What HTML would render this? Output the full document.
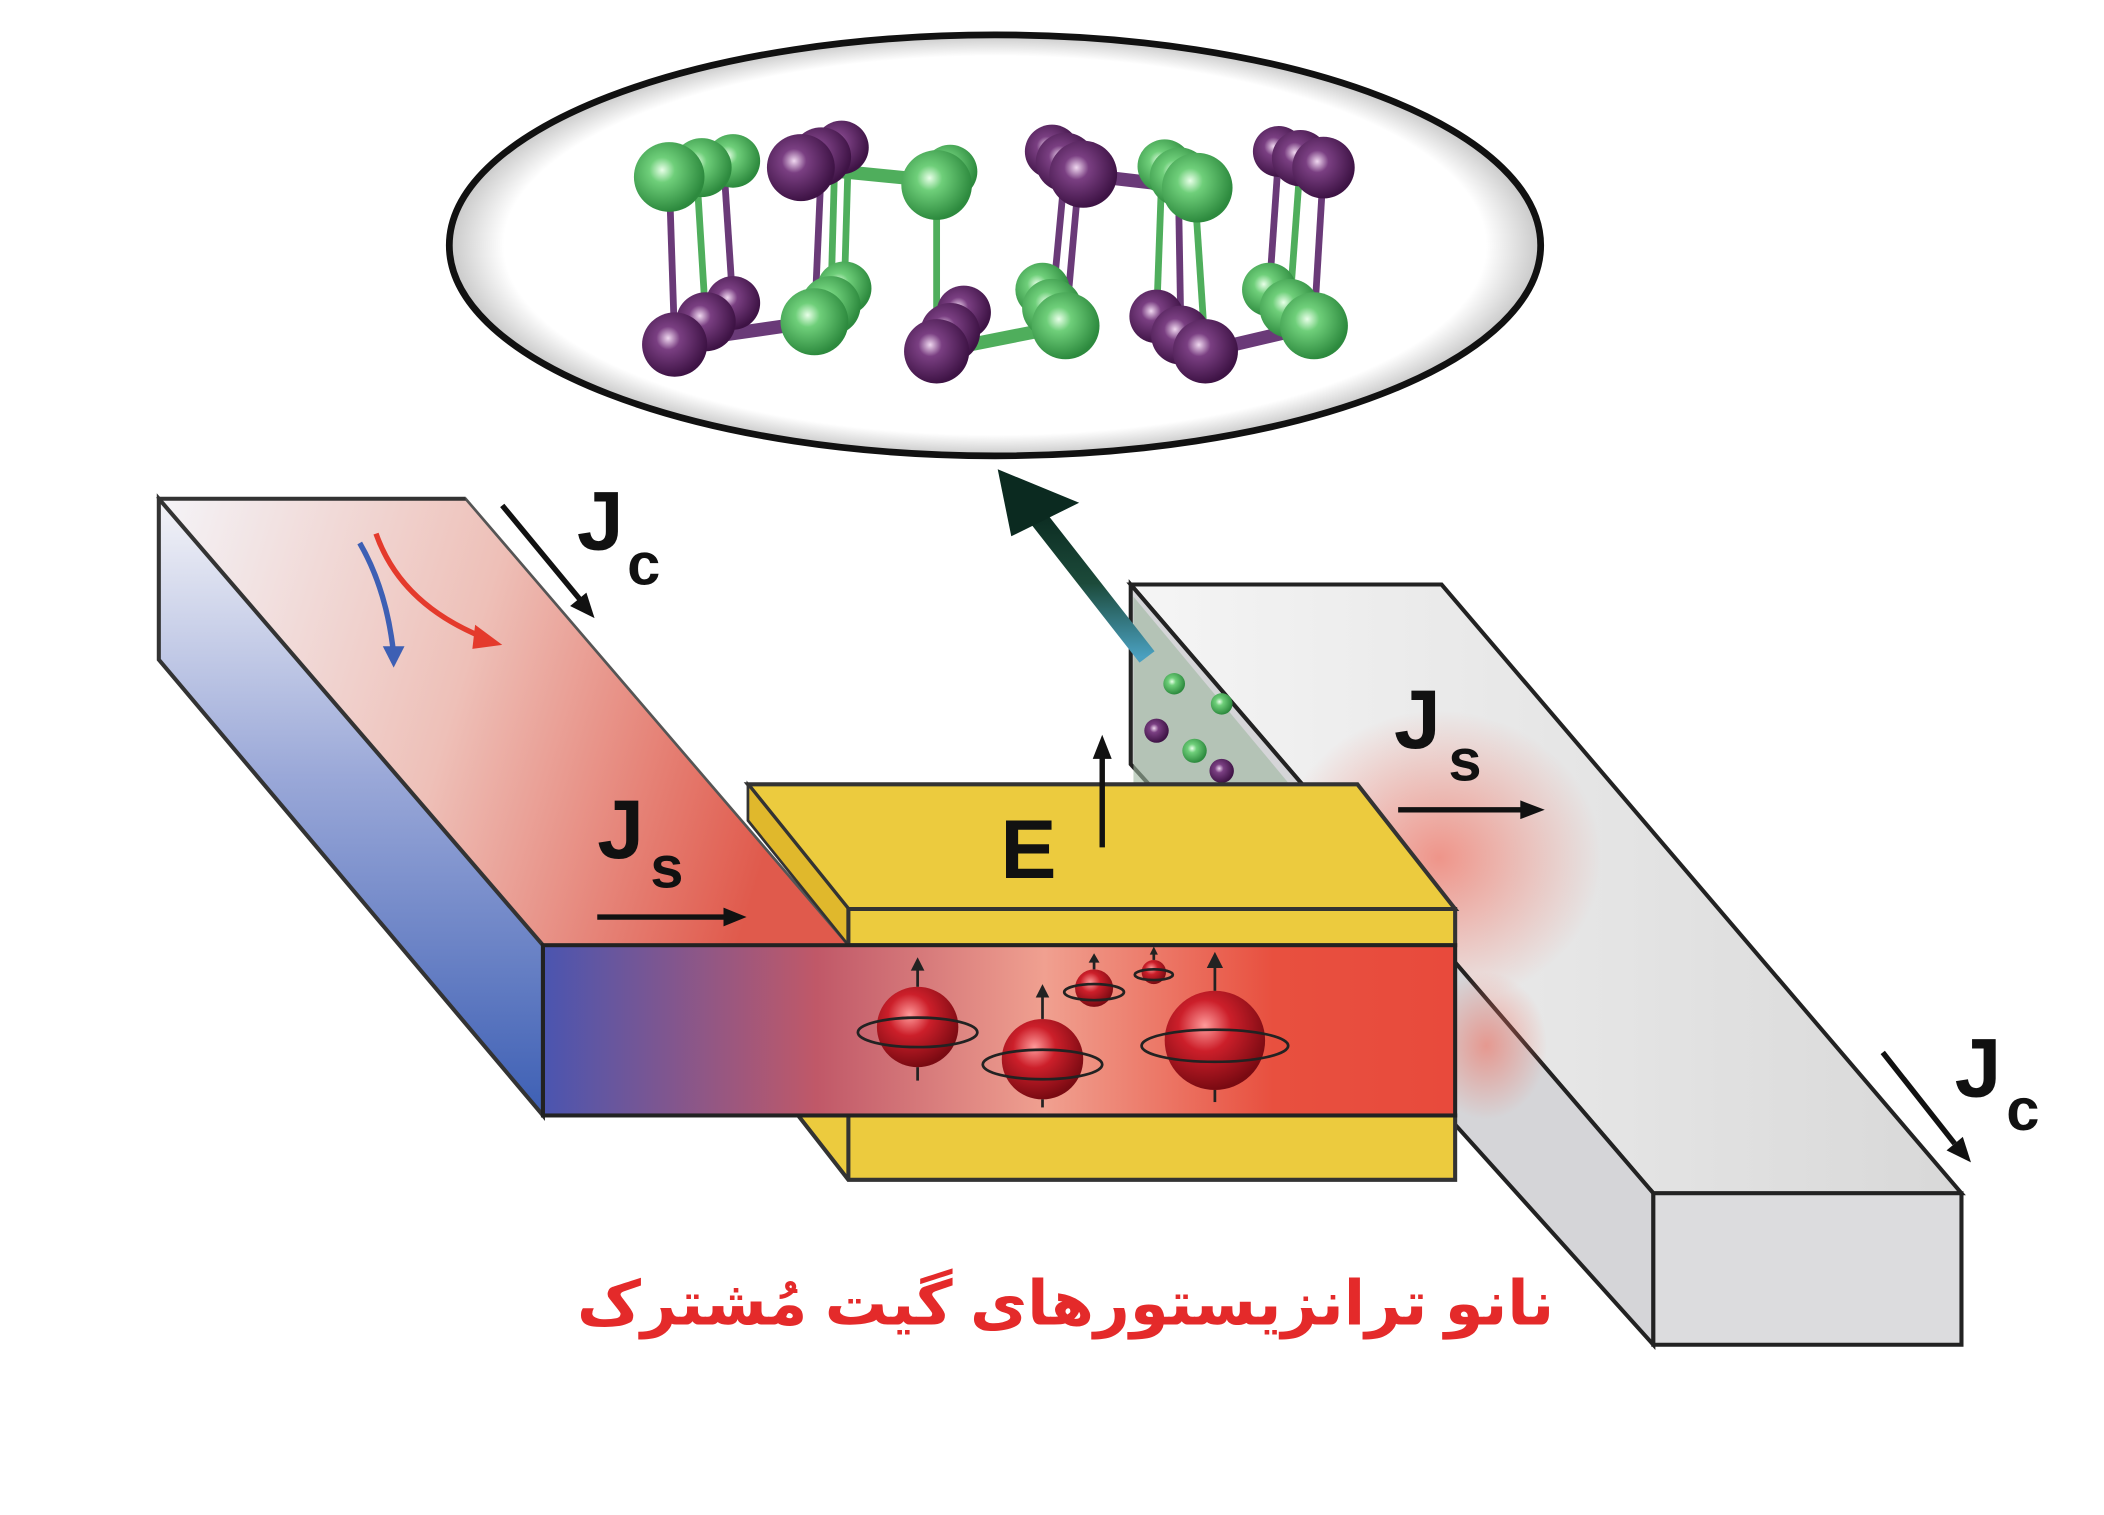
<!DOCTYPE html>
<html><head><meta charset="utf-8"><style>
html,body{margin:0;padding:0;background:#fff;width:2104px;height:1515px;overflow:hidden}
svg{display:block}
</style></head><body>
<svg width="2104" height="1515" viewBox="0 0 1550 1130" preserveAspectRatio="none" xmlns="http://www.w3.org/2000/svg">
<defs>
<radialGradient id="gG" cx="0.4" cy="0.4" r="0.6"><stop offset="0" stop-color="#e8ffe8"/><stop offset="0.3" stop-color="#6fcf7a"/><stop offset="1" stop-color="#2d8a3e"/></radialGradient>
<radialGradient id="gP" cx="0.4" cy="0.4" r="0.6"><stop offset="0" stop-color="#f0d8f0"/><stop offset="0.3" stop-color="#7a3f82"/><stop offset="1" stop-color="#3e1345"/></radialGradient>
<radialGradient id="gR" cx="0.4" cy="0.35" r="0.65"><stop offset="0" stop-color="#ff9a9a"/><stop offset="0.4" stop-color="#cc1f2a"/><stop offset="1" stop-color="#7a0a12"/></radialGradient>
<radialGradient id="ell" cx="0.5" cy="0.5" r="0.5"><stop offset="0.9" stop-color="#fff"/><stop offset="1" stop-color="#c8c8c8"/></radialGradient>
<linearGradient id="lbTop" x1="0" y1="0" x2="1" y2="0.2"><stop offset="0" stop-color="#f4f4f8"/><stop offset="0.5" stop-color="#eec0b8"/><stop offset="1" stop-color="#e05a4c"/></linearGradient>
<linearGradient id="lbSide" x1="0" y1="0" x2="0" y2="1"><stop offset="0" stop-color="#f4f4f8"/><stop offset="0.45" stop-color="#9aa8d8"/><stop offset="1" stop-color="#3d5fb4"/></linearGradient>
<linearGradient id="chan" x1="0" y1="0" x2="1" y2="0"><stop offset="0" stop-color="#4a55b0"/><stop offset="0.3" stop-color="#c05868"/><stop offset="0.55" stop-color="#f0a090"/><stop offset="0.8" stop-color="#e8503f"/><stop offset="1" stop-color="#e84a3c"/></linearGradient>
<radialGradient id="glow" cx="0.5" cy="0.5" r="0.5"><stop offset="0" stop-color="#f07060"/><stop offset="1" stop-color="#f07060" stop-opacity="0"/></radialGradient>
<linearGradient id="rbTop" x1="0" y1="0" x2="1" y2="0"><stop offset="0" stop-color="#f5f5f5"/><stop offset="1" stop-color="#d8d8d8"/></linearGradient>
<linearGradient id="arr" x1="0" y1="1" x2="0" y2="0"><stop offset="0" stop-color="#4aa0c0"/><stop offset="0.5" stop-color="#1c4a3a"/><stop offset="1" stop-color="#0b2a20"/></linearGradient>
</defs>

<ellipse cx="733" cy="183" rx="402" ry="157" fill="url(#ell)" stroke="#111" stroke-width="5"/>

<g stroke-width="5">
<line x1="493" y1="132" x2="497" y2="255" stroke="#6a3a78"/><line x1="513" y1="125" x2="520" y2="240" stroke="#4fae5c"/><line x1="533" y1="120" x2="540" y2="228" stroke="#6a3a78"/>
<line x1="605" y1="125" x2="600" y2="240" stroke="#6a3a78"/><line x1="615" y1="118" x2="612" y2="228" stroke="#4fae5c"/><line x1="625" y1="113" x2="622" y2="217" stroke="#4fae5c"/>
<line x1="690" y1="135" x2="690" y2="262" stroke="#4fae5c"/>
<line x1="795" y1="130" x2="785" y2="243" stroke="#6a3a78"/><line x1="785" y1="122" x2="775" y2="230" stroke="#6a3a78"/>
<line x1="880" y1="140" x2="888" y2="262" stroke="#4fae5c"/><line x1="868" y1="133" x2="870" y2="250" stroke="#6a3a78"/><line x1="856" y1="126" x2="852" y2="238" stroke="#4fae5c"/>
<line x1="975" y1="125" x2="968" y2="243" stroke="#6a3a78"/><line x1="958" y1="120" x2="950" y2="230" stroke="#4fae5c"/><line x1="942" y1="115" x2="935" y2="218" stroke="#6a3a78"/>
<line x1="590" y1="125" x2="690" y2="135" stroke="#4fae5c" stroke-width="10"/>
<line x1="795" y1="130" x2="880" y2="140" stroke="#6a3a78" stroke-width="10"/>
<line x1="497" y1="255" x2="600" y2="240" stroke="#6a3a78" stroke-width="10"/>
<line x1="690" y1="262" x2="785" y2="243" stroke="#4fae5c" stroke-width="10"/>
<line x1="888" y1="262" x2="968" y2="243" stroke="#6a3a78" stroke-width="10"/>
</g>
<g>
<circle cx="540" cy="120" r="20" fill="url(#gG)"/><circle cx="620" cy="110" r="20" fill="url(#gP)"/><circle cx="700" cy="128" r="20" fill="url(#gG)"/>
<circle cx="775" cy="113" r="20" fill="url(#gP)"/><circle cx="858" cy="124" r="20" fill="url(#gG)"/><circle cx="942" cy="113" r="19" fill="url(#gP)"/>
<circle cx="540" cy="226" r="20" fill="url(#gP)"/><circle cx="622" cy="215" r="20" fill="url(#gG)"/><circle cx="710" cy="233" r="20" fill="url(#gP)"/>
<circle cx="768" cy="216" r="20" fill="url(#gG)"/><circle cx="852" cy="236" r="20" fill="url(#gP)"/><circle cx="935" cy="216" r="20" fill="url(#gG)"/>
<circle cx="517" cy="125" r="22" fill="url(#gG)"/><circle cx="605" cy="117" r="22" fill="url(#gP)"/><circle cx="785" cy="121" r="22" fill="url(#gP)"/>
<circle cx="869" cy="132" r="22" fill="url(#gG)"/><circle cx="958" cy="118" r="21" fill="url(#gP)"/>
<circle cx="520" cy="240" r="22" fill="url(#gP)"/><circle cx="612" cy="228" r="22" fill="url(#gG)"/><circle cx="700" cy="248" r="22" fill="url(#gP)"/>
<circle cx="775" cy="230" r="22" fill="url(#gG)"/><circle cx="870" cy="250" r="22" fill="url(#gP)"/><circle cx="950" cy="230" r="22" fill="url(#gG)"/>
</g>
<g>
<circle cx="493" cy="132" r="26" fill="url(#gG)"/><circle cx="590" cy="125" r="25" fill="url(#gP)"/><circle cx="690" cy="138" r="26" fill="url(#gG)"/>
<circle cx="798" cy="130" r="25" fill="url(#gP)"/><circle cx="882" cy="140" r="26" fill="url(#gG)"/><circle cx="975" cy="125" r="23" fill="url(#gP)"/>
<circle cx="497" cy="257" r="24" fill="url(#gP)"/><circle cx="600" cy="240" r="25" fill="url(#gG)"/><circle cx="690" cy="262" r="24" fill="url(#gP)"/>
<circle cx="785" cy="243" r="25" fill="url(#gG)"/><circle cx="888" cy="262" r="24" fill="url(#gP)"/><circle cx="968" cy="243" r="25" fill="url(#gG)"/>
</g>

<polygon points="833,436 1062,436 1445,890 1218,890" fill="url(#rbTop)" stroke="#222" stroke-width="3"/>
<ellipse cx="1060" cy="640" rx="120" ry="110" fill="url(#glow)" opacity="0.7"/>
<polygon points="833,436 833,570 1218,1003 1218,890" fill="#d5d5d8" stroke="#222" stroke-width="3"/>
<ellipse cx="1095" cy="780" rx="45" ry="55" fill="url(#glow)" opacity="0.6"/>
<polygon points="1218,890 1445,890 1445,1003 1218,1003" fill="#dcdcde" stroke="#222" stroke-width="3"/>
<polygon points="835,445 950,585 835,585" fill="#9fb8a0" opacity="0.6"/>
<circle cx="852" cy="545" r="9" fill="url(#gP)"/><circle cx="880" cy="560" r="9" fill="url(#gG)"/><circle cx="900" cy="575" r="9" fill="url(#gP)"/><circle cx="865" cy="510" r="8" fill="url(#gG)"/><circle cx="900" cy="525" r="8" fill="url(#gG)"/>

<line x1="845" y1="490" x2="760" y2="380" stroke="url(#arr)" stroke-width="14"/>
<polygon points="735,350 795,375 745,400" fill="#0b2a20"/>

<polygon points="117,372 343,372 625,705 400,705" fill="url(#lbTop)" stroke="#555" stroke-width="2"/>
<polygon points="117,372 117,492 400,832 400,705" fill="url(#lbSide)" stroke="#333" stroke-width="3"/>
<line x1="117" y1="372" x2="343" y2="372" stroke="#333" stroke-width="3"/>

<polygon points="551,585 1000,585 1072,678 625,678" fill="#eccb3e" stroke="#333" stroke-width="3"/>
<polygon points="551,585 625,678 625,705 551,612" fill="#e0b82c" stroke="#333" stroke-width="2"/>
<polygon points="625,678 1072,678 1072,705 625,705" fill="#eccb3e" stroke="#333" stroke-width="3"/>
<polygon points="588,832 1072,832 1072,880 625,880" fill="#eccb3e" stroke="#333" stroke-width="3"/>
<line x1="625" y1="832" x2="625" y2="880" stroke="#333" stroke-width="3"/>

<rect x="400" y="705" width="672" height="127" fill="url(#chan)" stroke="#222" stroke-width="3"/>

<g fill="none" stroke="#222" stroke-width="2">
<circle cx="676" cy="766" r="30" fill="url(#gR)" stroke="none"/><ellipse cx="676" cy="770" rx="44" ry="11"/><line x1="676" y1="720" x2="676" y2="736"/><line x1="676" y1="796" x2="676" y2="806"/>
<circle cx="768" cy="790" r="30" fill="url(#gR)" stroke="none"/><ellipse cx="768" cy="794" rx="44" ry="11"/><line x1="768" y1="740" x2="768" y2="760"/><line x1="768" y1="820" x2="768" y2="826"/>
<circle cx="895" cy="776" r="37" fill="url(#gR)" stroke="none"/><ellipse cx="895" cy="780" rx="54" ry="12"/><line x1="895" y1="718" x2="895" y2="739"/><line x1="895" y1="813" x2="895" y2="822"/>
<circle cx="806" cy="737" r="14" fill="url(#gR)" stroke="none"/><ellipse cx="806" cy="740" rx="22" ry="6"/><line x1="806" y1="715" x2="806" y2="723"/>
<circle cx="850" cy="725" r="9" fill="url(#gR)" stroke="none"/><ellipse cx="850" cy="727" rx="14" ry="4"/><line x1="850" y1="710" x2="850" y2="716"/>
</g>
<g fill="#222"><polygon points="676,714 671,724 681,724"/><polygon points="768,734 763,744 773,744"/><polygon points="895,710 889,722 901,722"/><polygon points="806,711 802,718 810,718"/><polygon points="850,706 847,712 853,712"/></g>

<path d="M265,405 Q285,440 290,488" fill="none" stroke="#3d5fb4" stroke-width="4"/>
<polygon points="282,482 298,482 290,498" fill="#3d5fb4"/>
<path d="M277,398 Q295,450 355,475" fill="none" stroke="#e43a2c" stroke-width="4"/>
<polygon points="350,466 370,481 348,484" fill="#e43a2c"/>

<g stroke="#111" stroke-width="4" fill="#111">
<line x1="370" y1="377" x2="428" y2="448"/><polygon points="438,461 420,452 432,442" stroke="none"/>
<line x1="440" y1="684" x2="535" y2="684"/><polygon points="550,684 533,677 533,691" stroke="none"/>
<line x1="812" y1="632" x2="812" y2="565"/><polygon points="812,548 805,566 819,566" stroke="none"/>
<line x1="1030" y1="604" x2="1122" y2="604"/><polygon points="1138,604 1120,597 1120,611" stroke="none"/>
<line x1="1387" y1="785" x2="1440" y2="853"/><polygon points="1452,867 1434,858 1446,848" stroke="none"/>
</g>

<g font-family="Liberation Sans, sans-serif" font-weight="bold" fill="#111">
<text x="425" y="410" font-size="62">J</text><text x="462" y="436" font-size="44">c</text>
<text x="440" y="640" font-size="62">J</text><text x="479" y="662" font-size="44">s</text>
<text x="737" y="655" font-size="62">E</text>
<text x="1027" y="558" font-size="62">J</text><text x="1067" y="582" font-size="44">s</text>
<text x="1440" y="818" font-size="62">J</text><text x="1478" y="843" font-size="44">c</text>
</g>
<text x="785" y="988" text-anchor="middle" direction="rtl" font-family="'Liberation Sans','DejaVu Sans',sans-serif" font-weight="bold" font-size="46" fill="#e42a2a">نانو ترانزیستورهای گیت مُشترک</text>
</svg>
</body></html>
